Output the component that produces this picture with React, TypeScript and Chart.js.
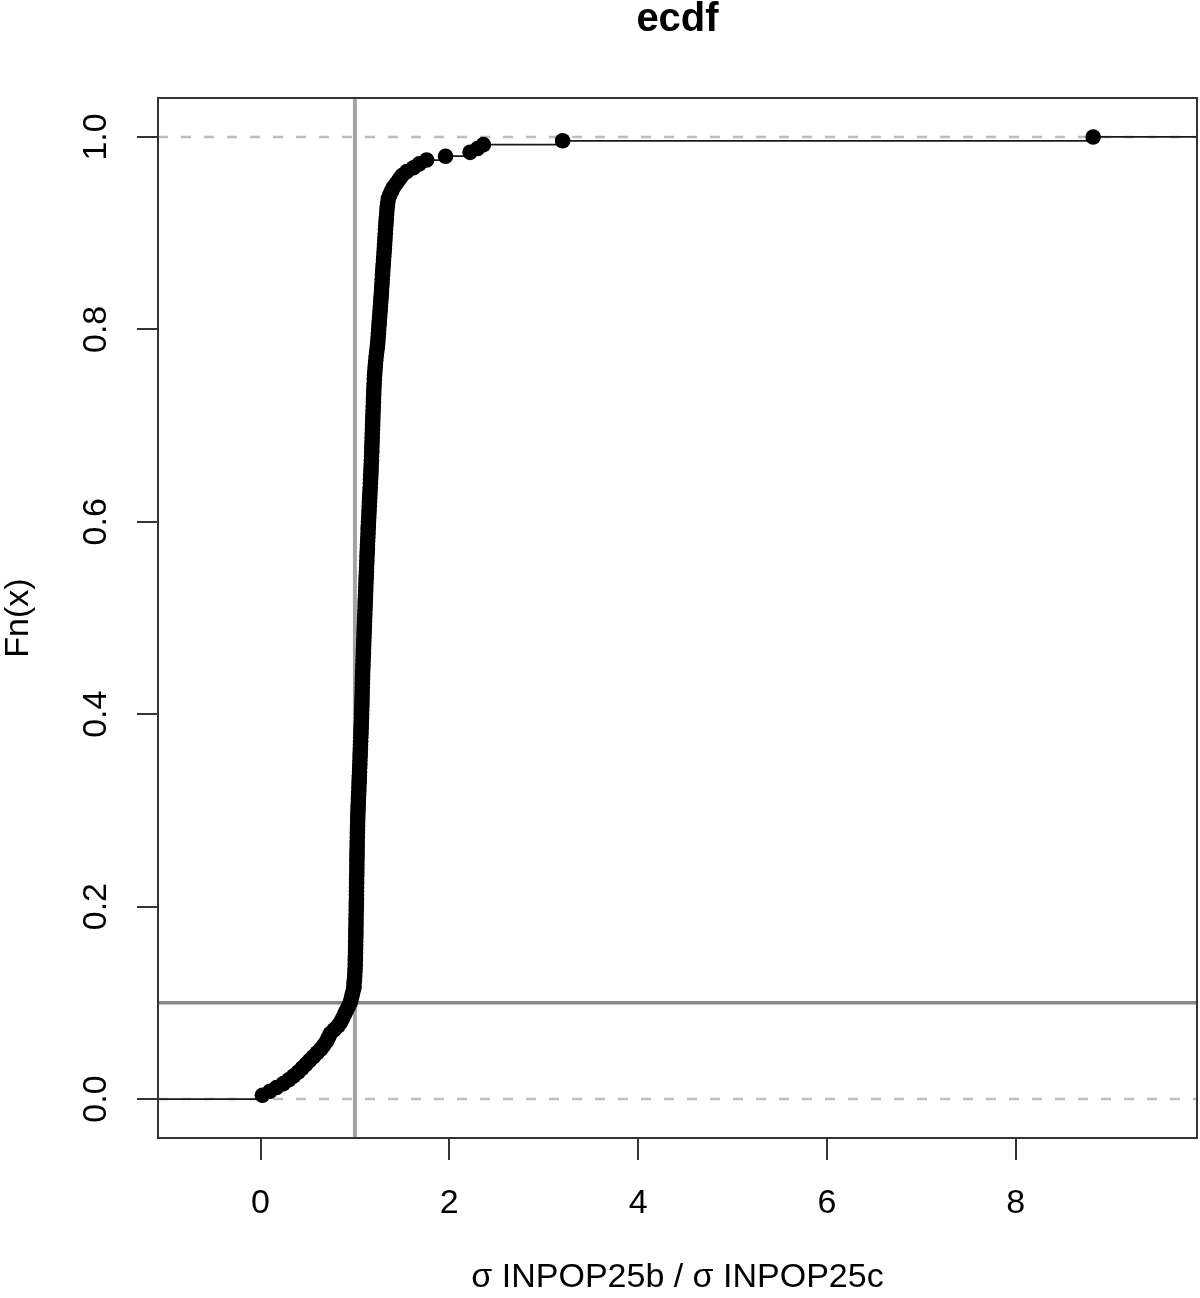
import React, { useEffect, useRef } from "react";
import { Chart, registerables } from "chart.js";

Chart.register(...registerables);

// Sorted sample values (ratio of sigmas)
const sampleX: number[] = [
  0.02, 0.10, 0.17, 0.24, 0.30, 0.35, 0.40, 0.44, 0.48, 0.52,
  0.56, 0.60, 0.64, 0.67, 0.70, 0.72, 0.74, 0.78, 0.82, 0.85,
  0.87, 0.89, 0.91, 0.93, 0.95, 0.96, 0.97, 0.98, 0.99, 0.99,
  0.995, 0.998, 1.000, 1.002, 1.003, 1.004, 1.005, 1.006, 1.007, 1.008,
  1.008, 1.009, 1.010, 1.010, 1.011, 1.012, 1.012, 1.013, 1.014, 1.015,
  1.015, 1.016, 1.016, 1.017, 1.017, 1.018, 1.018, 1.019, 1.020, 1.020,
  1.021, 1.021, 1.022, 1.022, 1.023, 1.024, 1.024, 1.025, 1.026, 1.027,
  1.028, 1.029, 1.030, 1.031, 1.033, 1.034, 1.036, 1.037, 1.039, 1.041,
  1.042, 1.044, 1.046, 1.047, 1.049, 1.050, 1.052, 1.053, 1.055, 1.056,
  1.058, 1.059, 1.061, 1.062, 1.064, 1.065, 1.067, 1.068, 1.070, 1.071,
  1.072, 1.073, 1.074, 1.075, 1.076, 1.077, 1.078, 1.079, 1.080, 1.081,
  1.082, 1.084, 1.085, 1.087, 1.088, 1.090, 1.091, 1.093, 1.094, 1.096,
  1.097, 1.099, 1.100, 1.102, 1.103, 1.105, 1.106, 1.108, 1.109, 1.111,
  1.112, 1.114, 1.115, 1.117, 1.118, 1.120, 1.122, 1.123, 1.125, 1.127,
  1.128, 1.130, 1.132, 1.133, 1.135, 1.137, 1.139, 1.140, 1.142, 1.144,
  1.146, 1.148, 1.150, 1.152, 1.154, 1.156, 1.158, 1.160, 1.162, 1.164,
  1.166, 1.168, 1.170, 1.171, 1.173, 1.175, 1.176, 1.178, 1.179, 1.180,
  1.182, 1.183, 1.184, 1.186, 1.187, 1.188, 1.190, 1.191, 1.193, 1.194,
  1.196, 1.197, 1.199, 1.200, 1.202, 1.204, 1.206, 1.208, 1.211, 1.214,
  1.217, 1.221, 1.225, 1.230, 1.236, 1.240, 1.243, 1.246, 1.249, 1.252,
  1.255, 1.258, 1.261, 1.264, 1.267, 1.270, 1.273, 1.276, 1.279, 1.282,
  1.284, 1.287, 1.289, 1.292, 1.294, 1.297, 1.300, 1.303, 1.306, 1.309,
  1.312, 1.314, 1.317, 1.319, 1.322, 1.324, 1.327, 1.330, 1.333, 1.336,
  1.339, 1.343, 1.348, 1.355, 1.37, 1.39, 1.41, 1.44, 1.47, 1.50,
  1.55, 1.62, 1.68, 1.76, 1.96, 2.22, 2.30, 2.36, 3.20, 8.82,
];

const xTickValues = [0, 2, 4, 6, 8];
const xTickLabels = ["0", "2", "4", "6", "8"];
const yTickValues = [0, 0.2, 0.4, 0.6, 0.8, 1.0];
const yTickLabels = ["0.0", "0.2", "0.4", "0.6", "0.8", "1.0"];
const refVerticalX = 1;
const refHorizontalY = 0.1;
const dashedLevels = [0, 1];
const xRange = [-1.086, 9.92];
const yRange = [-0.0405, 1.0405];

const chartTitle = "ecdf";
const xAxisTitle = "σ INPOP25b / σ INPOP25c";
const yAxisTitle = "Fn(x)";

const FONT = "'Liberation Sans', Arial, Helvetica, sans-serif";

export default function App() {
  const canvasRef = useRef<HTMLCanvasElement | null>(null);

  useEffect(() => {
    const canvas = canvasRef.current;
    if (!canvas) return;

    const n = sampleX.length;
    const ecdfPoints = sampleX.map((x, i) => ({ x, y: (i + 1) / n }));
    const stepPoints = [
      { x: xRange[0] - 5, y: 0 },
      ...ecdfPoints,
      { x: xRange[1] + 5, y: 1 },
    ];

    const overlay = {
      id: "overlay",
      afterDraw(chart: any) {
        const { ctx, chartArea, scales } = chart;
        const { left, top, right, bottom } = chartArea;
        ctx.save();
        ctx.strokeStyle = "#333";
        ctx.lineWidth = 2;
        ctx.strokeRect(left, top, right - left, bottom - top);

        ctx.fillStyle = "#000";
        ctx.font = `34px ${FONT}`;
        ctx.textAlign = "center";
        ctx.textBaseline = "middle";
        yTickValues.forEach((v, i) => {
          const py = scales.y.getPixelForValue(v);
          ctx.save();
          ctx.translate(97, py);
          ctx.rotate(-Math.PI / 2);
          ctx.fillText(yTickLabels[i], 0, 0);
          ctx.restore();
        });

        ctx.font = `bold 40px ${FONT}`;
        ctx.fillText(chartTitle, (left + right) / 2, 20);
        ctx.restore();
      },
    };

    const chart = new Chart(canvas, {
      type: "scatter",
      data: {
        datasets: [
          {
            label: "points",
            data: ecdfPoints,
            showLine: false,
            pointRadius: 7.8,
            pointHoverRadius: 7.8,
            pointBackgroundColor: "#000",
            pointBorderWidth: 0,
            backgroundColor: "#000",
            borderColor: "#000",
          },
          {
            label: "steps",
            data: stepPoints,
            showLine: true,
            stepped: "before",
            pointRadius: 0,
            borderColor: "#1a1a1a",
            borderWidth: 1.8,
            clip: 0,
          } as any,
          {
            label: "vline",
            data: [
              { x: refVerticalX, y: yRange[0] - 1 },
              { x: refVerticalX, y: yRange[1] + 1 },
            ],
            showLine: true,
            pointRadius: 0,
            borderColor: "#a3a3a3",
            borderWidth: 4,
            clip: 0,
          } as any,
          {
            label: "hline",
            data: [
              { x: xRange[0] - 5, y: refHorizontalY },
              { x: xRange[1] + 5, y: refHorizontalY },
            ],
            showLine: true,
            pointRadius: 0,
            borderColor: "#878787",
            borderWidth: 3.5,
            clip: 0,
          } as any,
          ...dashedLevels.map((lvl) => ({
            label: "dash" + lvl,
            data: [
              { x: xRange[0], y: lvl },
              { x: xRange[1], y: lvl },
            ],
            showLine: true,
            pointRadius: 0,
            borderColor: "#bdbdbd",
            borderWidth: 2.5,
            borderDash: [10, 13],
            clip: 0,
          })) as any,
        ],
      },
      options: {
        animation: false,
        responsive: false,
        devicePixelRatio: 1,
        events: [],
        layout: { autoPadding: false, padding: { top: 98, right: 3, bottom: 0, left: 0 } },
        plugins: {
          legend: { display: false },
          tooltip: { enabled: false },
          title: { display: false },
        },
        scales: {
          x: {
            type: "linear",
            position: "bottom",
            min: xRange[0],
            max: xRange[1],
            afterBuildTicks: (s: any) => {
              s.ticks = xTickValues.map((value) => ({ value }));
            },
            afterFit: (s: any) => {
              s.height = 160;
              s.paddingLeft = 0;
              s.paddingRight = 0;
              s.paddingTop = 0;
              s.paddingBottom = 0;
            },
            grid: {
              drawOnChartArea: false,
              drawTicks: true,
              tickLength: 22,
              color: "#333",
              lineWidth: 2,
            },
            border: { display: false },
            ticks: {
              autoSkip: false,
              maxRotation: 0,
              color: "#000",
              padding: 27,
              font: { family: FONT, size: 34, lineHeight: 1 },
              callback: (v: any) => {
                const idx = xTickValues.indexOf(Number(v));
                return idx >= 0 ? xTickLabels[idx] : "";
              },
            },
            title: {
              display: true,
              text: xAxisTitle,
              color: "#000",
              font: { family: FONT, size: 34, lineHeight: 1 },
              padding: { top: 0, bottom: 3 },
            },
          },
          y: {
            type: "linear",
            position: "left",
            min: yRange[0],
            max: yRange[1],
            afterBuildTicks: (s: any) => {
              s.ticks = yTickValues.map((value) => ({ value }));
            },
            afterFit: (s: any) => {
              s.width = 158;
              s.paddingLeft = 0;
              s.paddingRight = 0;
              s.paddingTop = 0;
              s.paddingBottom = 0;
            },
            grid: {
              drawOnChartArea: false,
              drawTicks: true,
              tickLength: 21,
              color: "#333",
              lineWidth: 2,
            },
            border: { display: false },
            ticks: { display: false },
            title: {
              display: true,
              text: yAxisTitle,
              color: "#000",
              font: { family: FONT, size: 34, lineHeight: 1 },
              padding: { top: 2, bottom: 0 },
            },
          },
        },
      },
      plugins: [overlay],
    });

    return () => {
      chart.destroy();
    };
  }, []);

  return (
    <div style={{ position: "absolute", left: 0, top: 0, width: 1200, height: 1298, background: "#fff" }}>
      <canvas ref={canvasRef} width={1200} height={1298} />
    </div>
  );
}
